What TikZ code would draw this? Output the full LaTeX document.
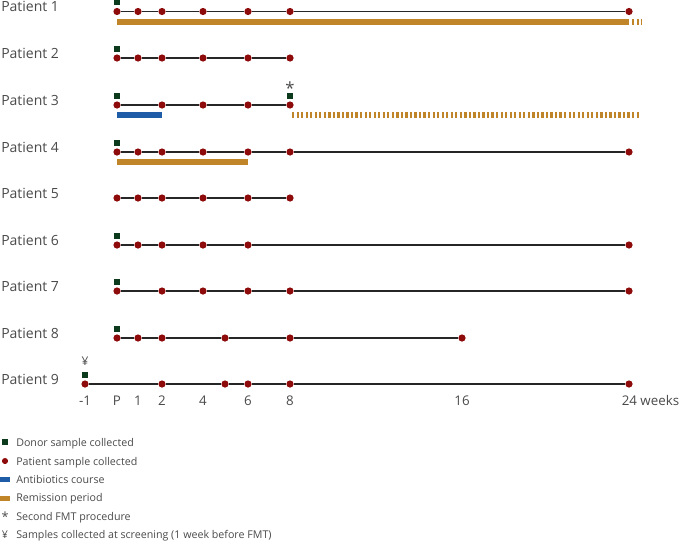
\documentclass[tikz,border=0pt]{standalone}
\usepackage{fontspec}
\setmainfont{Open Sans}
\usepackage{xcolor}
\usepackage{tikz}
\usetikzlibrary{positioning, calc}

\definecolor{donorgreen}{HTML}{0B3A1C}
\definecolor{samplered}{HTML}{8E0B0B}
\definecolor{abxblue}{HTML}{1F5CA8}
\definecolor{remission}{HTML}{C08529}
\definecolor{textgray}{HTML}{4A4A4A}

\begin{document}
\begin{tikzpicture}[
    x=0.75pt, y=-0.75pt,
    plabel/.style={anchor=base west, inner sep=0pt,
                   font=\fontsize{10.5}{12}\selectfont, text=textgray},
    wklabel/.style={anchor=base, inner sep=0pt,
                    font=\fontsize{10}{12}\selectfont, text=textgray},
    dot/.style={circle, fill=samplered, inner sep=0pt, minimum size=5.4pt},
    donor/.style={rectangle, fill=donorgreen, inner sep=0pt, minimum size=4.3pt},
    note/.style={anchor=base, inner sep=0pt, text=textgray},
    tline/.style={line width=0.9pt, black!85},
    bar/.style={line width=5.2pt},
    stripes/.style={line width=5.2pt, remission, dash pattern=on 1.7pt off 1.7pt},
    legtext/.style={anchor=base west, inner sep=0pt,
                    font=\fontsize{8}{9}\selectfont, text=textgray},
]
\useasboundingbox (0,0) rectangle (680,543);

% --- Week axis ---
\foreach \n/\x/\t in {m1/85/-1, P/117/P, 1/138/1, 2/162/2, 4/203/4,
                      6/248/6, 8/290/8, 16/462/16}
    \node[wklabel] (w\n) at (\x, 405) {\t};
\coordinate (w5) at (225, 405);
\coordinate (w24) at (629, 405);
\node[wklabel, anchor=base west] (wkunit) at (621.5, 405) {24 weeks};

% --- Patient timelines ---
\foreach \p/\y/\wks in {
    1/11.5/{P,1,2,4,6,8,24},
    2/58/{P,1,2,4,6,8},
    3/105/{P,2,4,6,8},
    4/152/{P,1,2,4,6,8,24},
    5/198/{P,1,2,4,6,8},
    6/245/{P,1,2,4,6,24},
    7/291/{P,2,4,6,8,24},
    8/338/{P,1,2,5,8,16},
    9/384/{m1,2,5,6,8,24}} {
  \node[plabel] (pat\p) at (1, \y) {Patient \p};
  \foreach \w [count=\i, remember=\w as \prev] in \wks {
    \node[dot] (d\p-\w) at (w\w |- pat\p.base) {};
    \ifnum\i>1 \draw[tline] (d\p-\prev) -- (d\p-\w); \fi
  }
}

% --- Donor samples ---
\foreach \p/\w in {1/P, 2/P, 3/P, 3/8, 4/P, 6/P, 7/P, 8/P, 9/m1}
    \node[donor] (don\p-\w) at ($(d\p-\w)+(0,-9)$) {};
\node[note, font=\fontsize{12.5}{14}\selectfont] (star) at ($(d3-8)+(0,-11)$) {*};
\node[note, font=\fontsize{9}{10}\selectfont] (yen) at ($(d9-m1)+(0,-18.5)$) {¥};

% --- Antibiotics and remission bars ---
\draw[bar, abxblue] ($(d3-P)+(0,10)$) -- ($(d3-2)+(0,10)$);
\draw[bar, remission] ($(d1-P)+(0,10.5)$) -- ($(d1-24)+(0,10.5)$);
\draw[stripes] ($(d1-24)+(3,10.5)$) -- ++(10,0);
\draw[bar, remission] ($(d4-P)+(0,10)$) -- ($(d4-6)+(0,10)$);
\draw[stripes] ($(d3-8)+(2,10)$) -- ($(w24 |- d3-8)+(10,10)$);

% --- Legend ---
\node[donor, minimum size=3.8pt] (lg1) at (5, 442) {};
\node[legtext] (lt1) at (16, 446.5) {Donor sample collected};
\node[dot, minimum size=4.6pt] (lg2) at (5, 461) {};
\node[legtext] (lt2) at (16, 465) {Patient sample collected};
\fill[abxblue] (0, 477) rectangle (10, 482);
\node[legtext] (lt3) at (16, 483.5) {Antibiotics course};
\fill[remission] (0, 495.5) rectangle (10, 500.5);
\node[legtext] (lt4) at (16, 501.5) {Remission period};
\node[note, font=\fontsize{9.5}{10}\selectfont] (lg5) at (5, 521.5) {*};
\node[legtext] (lt5) at (16, 520) {Second FMT procedure};
\node[note, font=\fontsize{8}{9}\selectfont] (lg6) at (5, 538.5) {¥};
\node[legtext] (lt6) at (16, 538.5) {Samples collected at screening (1 week before FMT)};
\end{tikzpicture}
\end{document}
